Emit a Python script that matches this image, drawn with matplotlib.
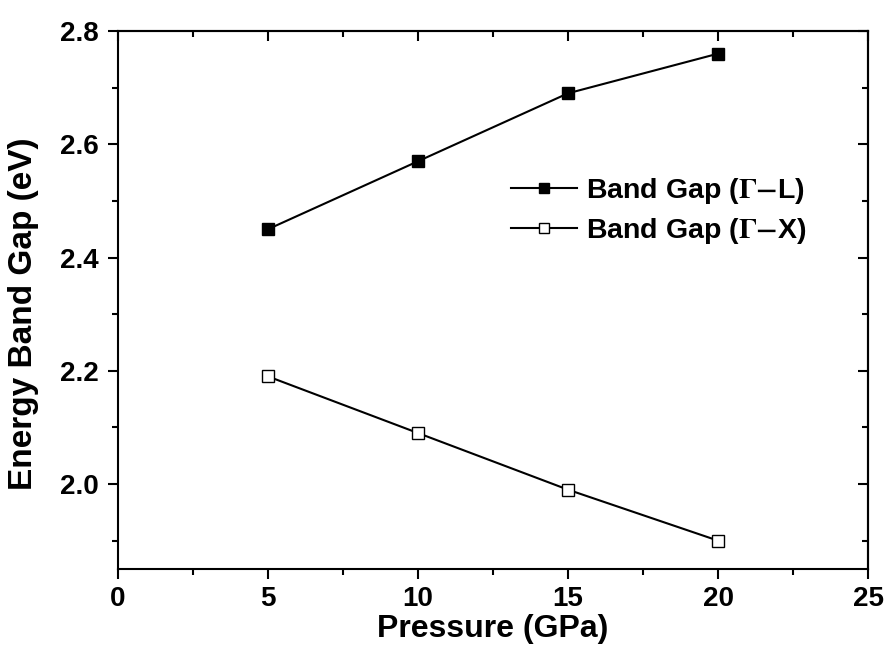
import matplotlib
matplotlib.use("Agg")
import matplotlib.pyplot as plt
from matplotlib.ticker import MultipleLocator

# data
pressure = [5, 10, 15, 20]
gap_gl = [2.45, 2.57, 2.69, 2.76]
gap_gx = [2.19, 2.09, 1.99, 1.90]
label_gl = r'Band Gap ($\Gamma$$-$L)'
label_gx = r'Band Gap ($\Gamma$$-$X)'

plt.rcParams['font.family'] = ['Liberation Sans', 'DejaVu Sans']
plt.rcParams['font.weight'] = 'bold'
plt.rcParams['mathtext.fontset'] = 'stix'

fig = plt.figure(figsize=(8.9, 6.57), dpi=100)
ax = fig.add_axes([0.1326, 0.134, 0.8427, 0.8188])

ax.plot(pressure, gap_gl, '-s', color='black', lw=1.5, ms=8.5,
        mfc='black', mec='black', label=label_gl)
ax.plot(pressure, gap_gx, '-s', color='black', lw=1.5, ms=8.5,
        mfc='white', mec='black', mew=1.0, label=label_gx)

ax.set_xlim(0, 25)
ax.set_ylim(1.85, 2.8)
ax.xaxis.set_major_locator(MultipleLocator(5))
ax.xaxis.set_minor_locator(MultipleLocator(2.5))
ax.yaxis.set_major_locator(MultipleLocator(0.2))
ax.yaxis.set_minor_locator(MultipleLocator(0.1))
ax.yaxis.set_major_formatter(plt.FormatStrFormatter('%.1f'))

ax.tick_params(which='major', direction='out', length=7, width=1.5,
               labelsize=20, pad=5)
ax.tick_params(axis='y', which='major', pad=7)
ax.tick_params(which='minor', direction='out', length=4, width=1.5)
for sp in ax.spines.values():
    sp.set_linewidth(1.5)

# mirrored ticks pointing inwards, Origin style
top = ax.secondary_xaxis('top')
top.xaxis.set_major_locator(MultipleLocator(5))
top.xaxis.set_minor_locator(MultipleLocator(2.5))
top.tick_params(which='major', direction='in', length=7, width=1.5, labeltop=False)
top.tick_params(which='minor', direction='in', length=4, width=1.5)
top.spines['top'].set_linewidth(1.5)
right = ax.secondary_yaxis('right')
right.yaxis.set_major_locator(MultipleLocator(0.2))
right.yaxis.set_minor_locator(MultipleLocator(0.1))
right.tick_params(which='major', direction='in', length=7, width=1.5, labelright=False)
right.tick_params(which='minor', direction='in', length=4, width=1.5)
right.spines['right'].set_linewidth(1.5)

for lab in ax.get_xticklabels() + ax.get_yticklabels():
    lab.set_fontweight('bold')

ax.set_xlabel('Pressure (GPa)', fontsize=23, fontweight='bold', labelpad=2)
ax.set_ylabel('Energy Band Gap (eV)', fontsize=24, fontweight='bold')
ax.yaxis.set_label_coords(-0.105, 0.474)

leg = ax.legend(loc='upper left', bbox_to_anchor=(0.524, 0.73), frameon=False,
                numpoints=1, handlelength=2.3, handletextpad=0.35,
                labelspacing=0.33, borderpad=0, borderaxespad=0,
                prop={'size': 20.5, 'weight': 'bold'})
for h in leg.legend_handles:
    h.set_markersize(7)

fig.savefig('out.png', dpi=100)
